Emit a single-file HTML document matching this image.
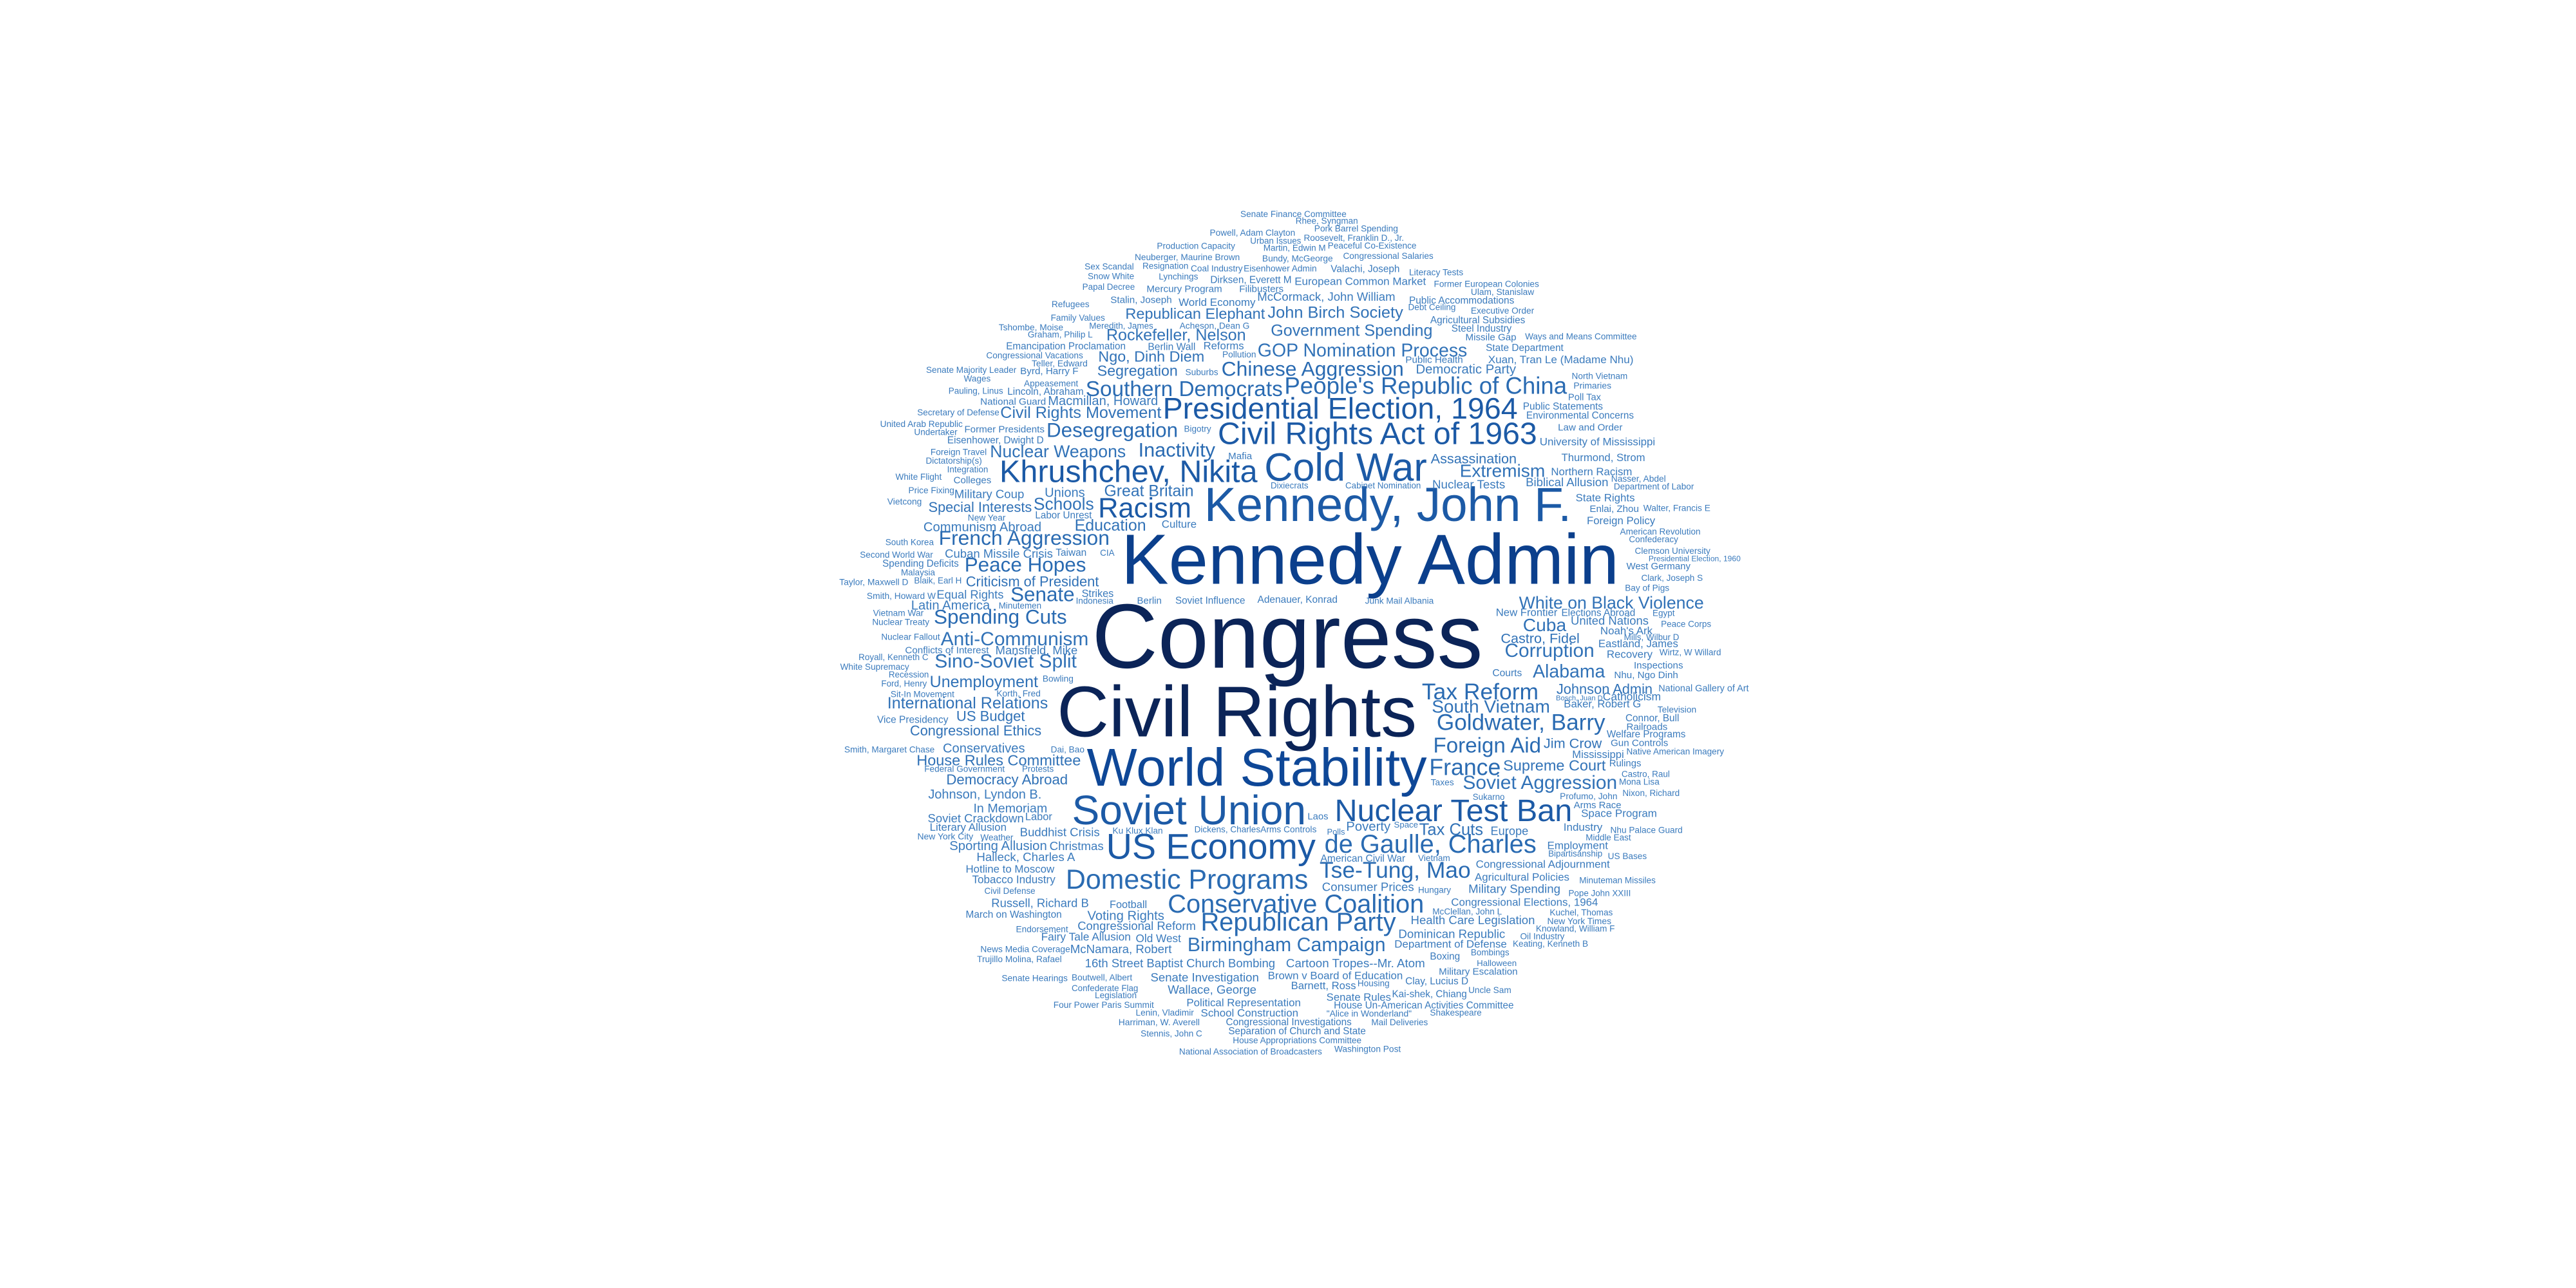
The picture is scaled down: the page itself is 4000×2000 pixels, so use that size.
<!DOCTYPE html>
<html><head><meta charset="utf-8"><title>Word Cloud</title>
<style>
html,body{margin:0;padding:0;background:#fff;}
svg{display:block;}
text{font-family:"Liberation Sans",Arial,sans-serif;}
</style></head>
<body>
<svg id="cloud" width="4000" height="2000" viewBox="0 0 1568 784" xmlns="http://www.w3.org/2000/svg">
<rect width="1568" height="784" fill="#ffffff"/>
<g id="words"></g>
</svg>
<script>
// word, left x, baseline y, width (layout in 1568x784 view units)
const words = [
["Congress",664.6,406.4,238],
["Kennedy Admin",682.5,355.4,303],
["Civil Rights",643.4,448.2,219],
["World Stability",661.5,478.3,207],
["Soviet Union",652.5,501.8,142.5],
["Kennedy, John F.",733,317.2,223.5],
["Cold War",769.6,292.7,99],
["Khrushchev, Nikita",608.4,293.4,157],
["Civil Rights Act of 1963",741.3,270.2,194.3],
["Presidential Election, 1964",707.8,254.8,216],
["Nuclear Test Ban",812.4,499.9,144.6],
["US Economy",673.3,522.7,127.5],
["de Gaulle, Charles",806.2,519,129],
["Domestic Programs",648.7,541,147.6],
["Tse-Tung, Mao",803.2,534.4,92],
["Conservative Coalition",710.8,555.4,156],
["Republican Party",730.9,566.5,118.8],
["Birmingham Campaign",722.8,578.9,120.6],
["Racism",668.4,314.9,56.8],
["Tax Reform",865.5,425.7,71],
["South Vietnam",871.5,433.8,72],
["Goldwater, Barry",874.5,444.3,102.6],
["Foreign Aid",872.4,458,65.7],
["France",870,471.7,43.5],
["Soviet Aggression",890.4,480.2,94],
["People's Republic of China",781.8,239.8,172],
["Southern Democrats",660.8,241.1,120],
["Chinese Aggression",743.5,228.7,111],
["Desegregation",637,265.9,80],
["Inactivity",692.9,278,46.8],
["Peace Hopes",587.1,347.9,74],
["Senate",615.1,365.9,39],
["Spending Cuts",568.4,379.6,81],
["Anti-Communism",572.6,392.7,90],
["Sino-Soviet Split",568.9,406.4,86.5],
["French Aggression",571.4,331.6,104],
["Special Interests",565.1,311.6,63],
["Schools",629.1,310.3,36.8],
["Great Britain",672.1,302.1,54.5],
["Education",654.1,323,43.5],
["Unemployment",565.9,418.2,66],
["International Relations",540.1,431.2,97.8],
["US Budget",582.1,438.8,41.8],
["Congressional Ethics",553.9,447.6,80],
["GOP Nomination Process",765.5,216.9,127.6],
["Government Spending",773.5,204.5,98.5],
["Rockefeller, Nelson",673.4,207.1,85],
["John Birch Society",771.6,193.4,82.5],
["Republican Elephant",685,194.1,85],
["Ngo, Dinh Diem",668.5,220.2,64.6],
["Segregation",667.9,228.7,49],
["Civil Rights Movement",608.9,254.4,98],
["Macmillan, Howard",637.9,246.5,67],
["Nuclear Weapons",602.6,278.3,82.7],
["Extremism",888.5,290.3,52],
["Assassination",870.9,282,52.3],
["White on Black Violence",924.6,370.5,112.5],
["Cuba",927,384.2,26.4],
["Corruption",915.9,399.9,54.6],
["Alabama",933,412.3,44],
["Johnson Admin",947.4,422.3,58.5],
["Jim Crow",939.6,455.4,35.4],
["Supreme Court",915,469.1,62.4],
["Castro, Fidel",913.5,391.4,48],
["United Nations",956.1,380.3,47.4],
["Congressional Adjournment",898.3,528.2,81.6],
["Agricultural Policies",897.7,536,57.6],
["Military Spending",893.8,543.6,56],
["Consumer Prices",804.7,542.3,56],
["Congressional Elections, 1964",883.3,551.4,89.4],
["Health Care Legislation",858.7,562.5,75.6],
["Dominican Republic",851.2,571,65],
["Department of Defense",848.8,576.9,68.4],
["Voting Rights",661.9,559.9,46.8],
["Congressional Reform",655.9,566.1,72],
["Fairy Tale Allusion",633.7,572.6,54.6],
["Old West",691.3,573.6,27.6],
["McNamara, Robert",651.4,580.2,61.8],
["16th Street Baptist Church Bombing",660.4,588.7,115.8],
["Cartoon Tropes--Mr. Atom",782.8,588.7,84.6],
["Senate Investigation",700.3,597.4,66],
["Wallace, George",710.8,604.8,54],
["Brown v Board of Education",771.7,596.1,82.2],
["Barnett, Ross",785.8,602.1,39.6],
["Political Representation",722.2,612.6,69.6],
["School Construction",730.9,618.7,59.4],
["House Rules Committee",557.9,465.9,100],
["Conservatives",573.9,458,50],
["Democracy Abroad",576,477.5,74],
["Johnson, Lyndon B.",565,486,69],
["In Memoriam",592.5,494.6,45],
["Soviet Crackdown",564.7,500.5,58.5],
["Labor",624,499.2,16.5],
["Buddhist Crisis",620.8,509,48.6],
["Literary Allusion",565.9,505.7,46.8],
["Sporting Allusion",577.9,517.4,59.4],
["Christmas",638.8,517.4,33],
["Halleck, Charles A",594.4,524.2,60],
["Hotline to Moscow",587.8,531.2,54],
["Tobacco Industry",591.7,537.7,50.7],
["Russell, Richard B",603.4,552.1,59.4],
["March on Washington",587.8,558.6,58.5],
["Communism Abroad",562.1,323.4,71.8],
["Cuban Missile Crisis",575.1,339.4,65.8],
["Equal Rights",570.1,364.3,40.8],
["Latin America",554.6,371.1,48],
["Criticism of President",587.9,357,81],
["Mansfield, Mike",605.9,398.3,50],
["Tax Cuts",863.8,508.3,39],
["Poverty",819.4,505.7,27],
["Employment",941.8,516.8,37],
["Industry",951.7,505.7,23.7],
["Europe",907.3,508.3,23],
["Nuclear Tests",871.8,297.3,44.4],
["Biblical Allusion",928.7,296,50.3],
["Northern Racism",944.1,289.4,49.4],
["Foreign Policy",965.9,319.1,41.6],
["State Rights",959.1,305.1,36],
["Thurmond, Strom",950.4,280.7,51],
["Democratic Party",861.8,227.4,61],
["Environmental Concerns",929,254.8,65.5],
["University of Mississippi",937.2,271.1,70.3],
["Public Statements",927,249.3,48.7],
["Law and Order",948.3,262,39.3],
["European Common Market",788,173.5,80],
["McCormack, John William",765.3,183,84],
["Dirksen, Everett M",736.7,172.2,49.5],
["Stalin, Joseph",675.9,184.5,37.4],
["World Economy",717.4,186.2,46.8],
["Mercury Program",697.9,177.7,46],
["Senate Finance Committee",755,132.2,64.6],
["Rhee, Syngman",788.6,136.2,38],
["Pork Barrel Spending",800,140.9,51],
["Powell, Adam Clayton",736.4,143.5,52],
["Urban Issues",761,148.3,31],
["Roosevelt, Franklin D., Jr.",793.6,146.6,61],
["Production Capacity",704.2,151.6,47.6],
["Martin, Edwin M",769,152.6,38],
["Peaceful Co-Existence",808.2,151.3,54],
["Neuberger, Maurine Brown",690.7,158.4,64],
["Bundy, McGeorge",768.3,159.2,43],
["Congressional Salaries",817.5,157.5,55],
["Sex Scandal",660.2,164,30],
["Resignation",695.4,163.6,28],
["Coal Industry",724.8,165.3,31.6],
["Eisenhower Admin",757,165.3,44.5],
["Valachi, Joseph",810,165.7,42],
["Literacy Tests",857.7,167.5,33],
["Snow White",662.1,169.9,28.3],
["Lynchings",705.3,170.1,24],
["Former European Colonies",872.8,174.6,64],
["Papal Decree",658.8,176.4,32],
["Filibusters",754.3,177.7,27],
["Ulam, Stanislaw",895.3,179.6,38.5],
["Public Accommodations",857.7,184.9,64],
["Refugees",640.1,186.9,23],
["Debt Ceiling",857.1,188.8,29],
["Executive Order",895.3,191,38.5],
["Family Values",639.6,195.2,33],
["Agricultural Subsidies",870.6,196.7,57.8],
["Meredith, James",663,200.2,39],
["Acheson, Dean G",718,200.2,42.6],
["Steel Industry",883.5,201.8,36.6],
["Missile Gap",892,207.1,31],
["Ways and Means Committee",928.3,206.5,68],
["Berlin Wall",698.7,213,29],
["Reforms",732.5,212.7,24.7],
["State Department",904.4,213.7,47.3],
["Pollution",744,217.6,20.6],
["Public Health",855.5,220.9,35],
["Xuan, Tran Le (Madame Nhu)",905.8,221.1,88.5],
["Suburbs",721.5,228.4,20],
["North Vietnam",956.7,230.7,34],
["Primaries",957.8,236.5,23],
["Poll Tax",954.5,243.7,20],
["Bigotry",720.7,262.9,16.5],
["Tshombe, Moise",607.9,201.2,39.3],
["Graham, Philip L",625.6,205.4,39.5],
["Emancipation Proclamation",612.4,212.7,72.8],
["Congressional Vacations",600.3,218.2,59],
["Teller, Edward",628,223,34],
["Senate Majority Leader",563.7,227,55],
["Byrd, Harry F",621,227.8,35.4],
["Wages",586.7,232.3,16.3],
["Appeasement",623.3,235.2,33],
["Pauling, Linus",577.3,239.8,33.3],
["Lincoln, Abraham",613.2,240.4,46.4],
["National Guard",596.7,246.3,40],
["Secretary of Defense",558.3,252.9,50],
["United Arab Republic",535.7,260,50.3],
["Undertaker",556.4,264.9,26.4],
["Former Presidents",587,263.3,48.8],
["Eisenhower, Dwight D",576.6,269.9,58.7],
["Foreign Travel",566.4,277,34.2],
["Dictatorship(s)",563.5,282.3,34.2],
["Integration",576.5,287.5,25],
["White Flight",545.1,292.1,28.1],
["Colleges",580.4,294.3,23],
["Mafia",747.6,279.6,14.5],
["Dixiecrats",773.4,297.3,23],
["Cabinet Nomination",818.9,297.3,46],
["Price Fixing",552.9,300.3,28],
["Military Coup",580.9,303.2,42.5],
["Unions",635.9,302.5,24.5],
["Vietcong",540.1,307.1,21],
["Labor Unrest",630.1,315.6,34.5],
["New Year",589.1,316.9,23],
["Culture",707.1,321.2,21.3],
["South Korea",538.9,331.9,29.5],
["Second World War",523.4,339.4,44.5],
["Taiwan",642.6,338.4,18.8],
["CIA",669.6,338.4,8.8],
["Spending Deficits",537.1,345,46.5],
["Malaysia",548.4,350.2,20.8],
["Taylor, Maxwell D",510.9,356.1,42],
["Blaik, Earl H",556.4,355.1,29],
["Smith, Howard W",527.6,364.6,42],
["Strikes",658.4,363.3,19.5],
["Indonesia",654.9,367.5,22.8],
["Berlin",692.1,367.5,15],
["Soviet Influence",715.4,367.5,42.5],
["Adenauer, Konrad",765.4,367,48.8],
["Junk Mail Albania",830.9,367.5,41.8],
["Minutemen",607.9,370.5,26],
["Vietnam War",531.4,375,30.8],
["Nuclear Treaty",530.9,380.5,34.8],
["Nuclear Fallout",536.4,389.4,35.8],
["Conflicts of Interest",550.9,397.6,51],
["Royall, Kenneth C",522.6,401.8,42.5],
["White Supremacy",511.4,407.7,42],
["Recession",540.9,412.3,24.5],
["Bowling",634.6,414.9,18.8],
["Ford, Henry",536.4,417.9,27.8],
["Sit-In Movement",542.1,424.4,38.8],
["Korth, Fred",606.6,424,26.8],
["Vice Presidency",533.9,440.1,43.3],
["Smith, Margaret Chase",513.9,458,55],
["Dai, Bao",639.6,458,20.5],
["Federal Government",562.6,469.8,49],
["Protests",622.1,469.8,19.3],
["American Revolution",986.1,325.4,49],
["Confederacy",991.5,330,30],
["Clemson University",995.1,337.1,46],
["Presidential Election, 1960",1003.5,341.7,56],
["West Germany",990,346.5,39],
["Clark, Joseph S",999,353.5,37.5],
["Bay of Pigs",989.1,359.6,27],
["Nasser, Abdel",980.7,293.3,33.3],
["Department of Labor",982.3,297.9,48.8],
["Enlai, Zhou",967.6,311.6,30],
["Walter, Francis E",1000.3,311,40.8],
["New Frontier",910.5,375,37.5],
["Elections Abroad",950.4,375,45],
["Egypt",1005.9,375,13.5],
["Peace Corps",1011,381.6,30.6],
["Noah's Ark",974.1,386.1,31.8],
["Mills, Wilbur D",988.5,389.7,33.6],
["Eastland, James",972.9,394,48.6],
["Recovery",978,400.5,27.9],
["Wirtz, W Willard",1010.1,398.8,37.5],
["Inspections",994.5,407,30],
["Courts",908.4,411.6,18],
["Nhu, Ngo Dinh",982.5,412.7,39],
["National Gallery of Art",1009.5,420.8,55],
["Bosch, Juan D",947.1,426.3,28.5],
["Catholicism",975.6,426.3,35.4],
["Baker, Robert G",951.9,430.6,47],
["Television",1008.9,433.8,23.7],
["Connor, Bull",989.4,439.1,32.7],
["Railroads",990,444.3,25],
["Welfare Programs",978,448.9,48],
["Gun Controls",980.4,454.1,35],
["Mississippi",957,461.3,31.5],
["Native American Imagery",990,459.3,59.4],
["Rulings",979.5,466.5,19.5],
["Castro, Raul",987,473,29.4],
["Taxes",870.9,478,14.1],
["Mona Lisa",985.5,477.6,24.6],
["Sukarno",896.4,486.8,19.5],
["Profumo, John",949.5,486.4,35],
["Nixon, Richard",987.6,484.6,34.8],
["Arms Race",957.9,492,29],
["Laos",795.9,498.9,12.6],
["Space Program",962.4,497.2,46.2],
["New York City",558.4,510.9,34],
["Weather",596.8,511.6,20],
["Ku Klux Klan",677.2,507.4,30.6],
["Dickens, Charles",727,506.7,40.2],
["Arms Controls",767.2,506.7,34.2],
["Polls",807.7,508,11],
["Space",848.5,503.7,14.7],
["Nhu Palace Guard",980.2,507,44],
["Middle East",965.2,511.6,27.6],
["American Civil War",803.8,524.6,51.6],
["Vietnam",863.2,524.2,19.5],
["Bipartisanship",942.4,521.4,33],
["US Bases",978.7,523,23.7],
["Minuteman Missiles",961.3,537.7,46.5],
["Hungary",863.2,543.6,20],
["Civil Defense",599.2,544.2,31],
["Pope John XXIII",954.7,545.5,38],
["Football",675.4,552.7,22.8],
["McClellan, John L",871.9,556.7,42.3],
["Kuchel, Thomas",943.3,557.3,38.4],
["New York Times",941.8,562.5,39],
["Endorsement",618.4,567.4,31.8],
["Knowland, William F",934.9,567.1,48],
["Oil Industry",925.3,571.7,27],
["News Media Coverage",596.8,579.5,54.6],
["Keating, Kenneth B",920.8,576.3,45.9],
["Trujillo Molina, Rafael",594.7,585.7,51.6],
["Boxing",870.4,584.1,18.3],
["Bombings",895.3,581.5,23.4],
["Halloween",898.9,588,24.3],
["Military Escalation",875.8,593.3,48],
["Senate Hearings",609.7,597.2,40.2],
["Boutwell, Albert",652.3,596.9,36.9],
["Clay, Lucius D",855.4,599.1,38.4],
["Housing",826.3,600.4,19.5],
["Confederate Flag",652.3,603.3,40.5],
["Uncle Sam",893.8,604.4,26.1],
["Legislation",666.4,607.6,25.5],
["Senate Rules",807.4,609.2,39.3],
["Kai-shek, Chiang",847.3,607,45.6],
["Four Power Paris Summit",641.2,613.5,61.2],
["House Un-American Activities Committee",811.9,613.9,109.5],
["Lenin, Vladimir",691.3,618.1,35.4],
["\"Alice in Wonderland\"",807.4,618.7,51.9],
["Shakespeare",870.4,618.1,31.5],
["Harriman, W. Averell",680.8,624,49.5],
["Congressional Investigations",746.2,624,76.5],
["Mail Deliveries",834.7,624,34.5],
["Stennis, John C",694.3,630.9,37.5],
["Separation of Church and State",747.7,629.6,83.7],
["House Appropriations Committee",750.4,635.1,78.3],
["National Association of Broadcasters",717.7,641.9,87],
["Washington Post",812.2,640.3,40.5]
];
const topColors = ["#0b2458","#0b3d8b","#0a2458","#0d4696"];

const NS = "http://www.w3.org/2000/svg";
const g = document.getElementById("words");
function colorFor(fs, i) {
  if (i === 0 || i === 2) return "#0b2458";
  if (i === 1) return "#0b3f8c";
  if (i === 3) return "#0e4797";
  if (fs >= 17) return "#1c5aa6";
  if (fs >= 12) return "#2a6bb2";
  if (fs >= 8) return "#3172b7";
  return "#3b7bbd";
}
words.forEach(function (wd, i) {
  const t = document.createElementNS(NS, "text");
  
  
  t.textContent = wd[0];
  t.setAttribute("x", wd[1]);
  t.setAttribute("y", wd[2]);
  t.setAttribute("font-size", 10);
  g.appendChild(t);
  let len = 0;
  try { len = t.getComputedTextLength(); } catch (e) { len = 0; }
  if (!len) len = wd[0].length * 5.2;
  const fs = 10 * wd[3] / len;
  t.setAttribute("font-size", fs.toFixed(2));
  t.setAttribute("textLength", wd[3]);
  t.setAttribute("lengthAdjust", "spacingAndGlyphs");
  t.setAttribute("fill", colorFor(fs, i));
});
</script>
</body></html>
